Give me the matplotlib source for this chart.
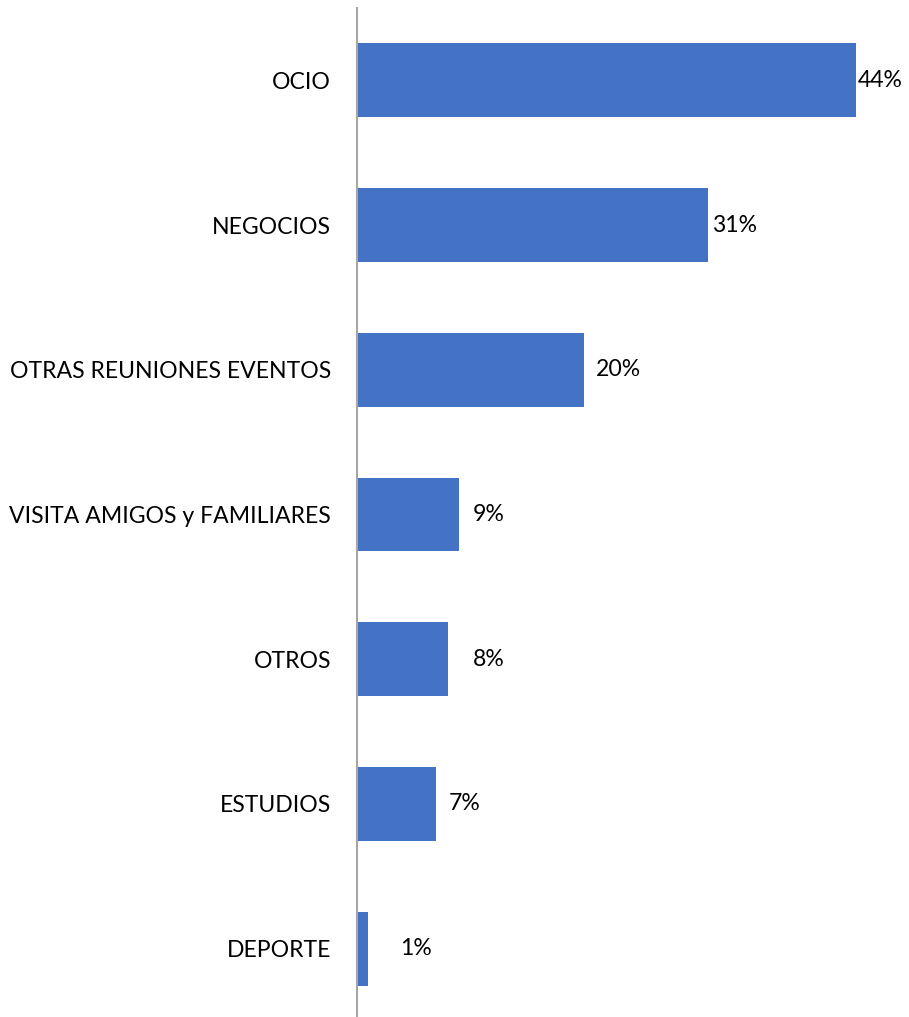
import matplotlib.pyplot as plt

# datos
categorias = ['OCIO', 'NEGOCIOS', 'OTRAS REUNIONES EVENTOS', 'VISITA AMIGOS y FAMILIARES',
              'OTROS', 'ESTUDIOS', 'DEPORTE']
valores = [44, 31, 20, 9, 8, 7, 1]
# separacion de cada etiqueta respecto al final de la barra (pixeles)
desfase_etiqueta = [2, 4, 12, 14, 25, 12, 32]

plt.rcParams['font.family'] = ['Lato', 'DejaVu Sans']

fig = plt.figure(figsize=(9.09, 10.17), dpi=100)
W, H = 909, 1017
ax = fig.add_axes([357 / W, (1017 - 1021) / H, 544 / W, 1013 / H])

pos = list(range(len(categorias)))
ax.barh(pos, valores, height=0.51, color='#4472C4')
ax.set_ylim(len(categorias) - 0.5, -0.5)
ax.set_xlim(0, 48)

ax.set_yticks(pos)
ax.set_yticklabels(categorias, fontsize=16.6, color='#000000')
ax.tick_params(axis='y', length=0, pad=18.7)
ax.set_xticks([])

for s in ['top', 'right', 'bottom']:
    ax.spines[s].set_visible(False)
ax.spines['left'].set_color('#A6A6A6')
ax.spines['left'].set_linewidth(1.5)

for i, v in enumerate(valores):
    ax.annotate('%d%%' % v, xy=(v, i), xytext=(desfase_etiqueta[i], 0),
                textcoords='offset pixels', ha='left', va='center',
                fontsize=16.6, color='#000000', annotation_clip=False)

fig.savefig('out.png', dpi=100)
